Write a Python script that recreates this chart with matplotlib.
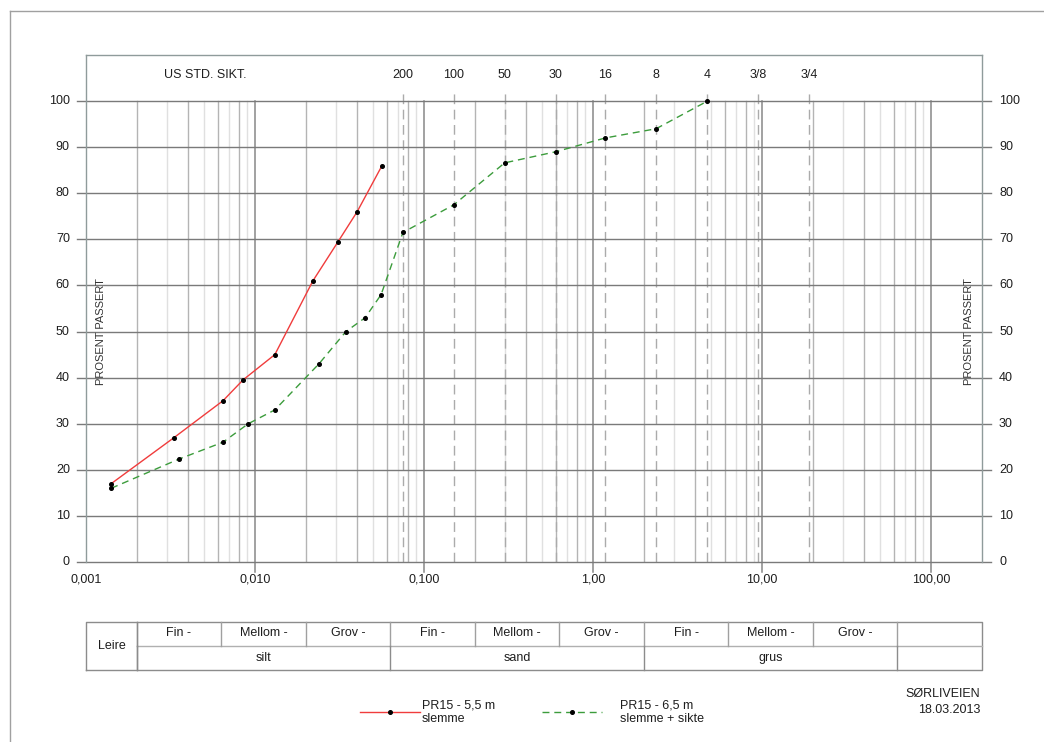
import numpy as np
import matplotlib
matplotlib.use("Agg")
import matplotlib.pyplot as plt
from matplotlib.lines import Line2D

plt.rcParams['font.family'] = ['Liberation Sans', 'DejaVu Sans']

# ---------------- data ----------------
red_d = [0.00141, 0.00332, 0.00647, 0.00849, 0.0131, 0.0220, 0.0310, 0.0402, 0.0564]
red_p = [17, 27, 35, 39.5, 45, 61, 69.5, 76, 86]

green_d = [0.00141, 0.00353, 0.00647, 0.00912, 0.0131, 0.0239, 0.0345, 0.0448, 0.0557,
           0.075, 0.15, 0.3, 0.6, 1.18, 2.36, 4.75]
green_p = [16, 22.3, 26, 30, 33, 43, 50, 53, 58, 71.5, 77.5, 86.6, 89, 92, 94, 100]

sieve_d = [0.075, 0.15, 0.3, 0.6, 1.18, 2.36, 4.75, 9.5, 19]
sieve_lbl = ['200', '100', '50', '30', '16', '8', '4', '3/8', '3/4']

xtick_vals = [0.001, 0.01, 0.1, 1, 10, 100]
xtick_lbl = ['0,001', '0,010', '0,100', '1,00', '10,00', '100,00']
ytick_vals = list(range(0, 101, 10))

tab_bounds = [0.001, 0.002, 0.0063, 0.02, 0.063, 0.2, 0.63, 2, 6.3, 20, 63, 200]
tab_sub = ['Fin -', 'Mellom -', 'Grov -', 'Fin -', 'Mellom -', 'Grov -',
           'Fin -', 'Mellom -', 'Grov -', '']
tab_main = ['silt', 'sand', 'grus']
tab_main_bounds = [0.002, 0.063, 2, 63, 200]

FS = 9
TC = '#1e1e1e'

W, H = 1044, 742
fig = plt.figure(figsize=(W / 100, H / 100), dpi=100)

def fx(px):
    return px / W

def fy(py):
    return 1 - py / H

XL, XR = 0.001, 200
L, R, T, B = 86, 982, 55, 562
ax = fig.add_axes([fx(L), fy(B), fx(R - L), (B - T) / H])
ax.set_xscale('log')
ax.set_xlim(XL, XR)
ax.set_ylim(0, 110)
ax.set_xticks([])
ax.set_yticks([])
ax.minorticks_off()
for s in ['left', 'right', 'top']:
    ax.spines[s].set_color('#8f9b9b')
    ax.spines[s].set_linewidth(1)
ax.spines['bottom'].set_visible(False)

# vertical grid: minor
for e in range(-3, 3):
    d = 10.0 ** e
    for m in range(2, 10):
        x = m * d
        if x >= XR:
            continue
        col = '#b4b4b4' if m % 2 == 0 else '#e0e0e0'
        ax.plot([x, x], [0, 100], color=col, lw=1, zorder=1)
# major decades
for x in xtick_vals[1:]:
    ax.plot([x, x], [-2.2, 100], color='#888888', lw=1.1, zorder=1.5, clip_on=False)

# sieve dashed lines
for x, lb in zip(sieve_d, sieve_lbl):
    ax.plot([x, x], [0, 102], color='#ababab', lw=1, ls=(0, (7, 4)), zorder=1.6)
    ax.text(x, 105.6, lb, ha='center', va='center', fontsize=FS, color=TC)
ax.text(0.00506, 105.6, 'US STD. SIKT.', ha='center', va='center', fontsize=FS, color=TC)

# horizontal grid
tr = ax.get_yaxis_transform()
for y in ytick_vals:
    ax.plot([-0.01, 1.01], [y, y], transform=tr, color='#7a7a7a', lw=1,
            zorder=2, clip_on=False)
    ax.text(-0.018, y, str(y), transform=tr, ha='right', va='center', fontsize=FS,
            color=TC)
    ax.text(1.019, y, str(y), transform=tr, ha='left', va='center', fontsize=FS,
            color=TC)

# x tick labels
xtr = ax.get_xaxis_transform()
for x, lb in zip(xtick_vals, xtick_lbl):
    ax.text(x, -0.035, lb, transform=xtr, ha='center', va='center', fontsize=FS,
            color=TC)

ax.text(0.017, 50, 'PROSENT PASSERT', transform=tr, rotation=90, ha='center',
        va='center', fontsize=8, color='#333333')
ax.text(0.985, 50, 'PROSENT PASSERT', transform=tr, rotation=90, ha='center',
        va='center', fontsize=8, color='#333333')

# data curves
ax.plot(red_d, red_p, color='#f03c3c', lw=1, zorder=5)
ax.plot(red_d, red_p, ls='none', marker='o', ms=2.6, color='black', zorder=6)
ax.plot(green_d, green_p, color='#3c9c3c', lw=1, ls=(0, (5, 3.5)), zorder=5)
ax.plot(green_d, green_p, ls='none', marker='o', ms=2.6, color='black', zorder=6)

# ---------------- table ----------------
TT, TB = 622, 669.5
tax = fig.add_axes([fx(L), fy(TB), fx(R - L), (TB - TT) / H])
tax.set_xscale('log')
tax.set_xlim(XL, XR)
tax.set_ylim(0, 2)
tax.axis('off')
lc = '#8c8c8c'
tax.plot([XL, XR, XR, XL, XL], [0, 0, 2, 2, 0], color=lc, lw=1, clip_on=False)
tax.plot([tab_bounds[1], XR], [1, 1], color='#b0b0b0', lw=1, clip_on=False)
for x in tab_bounds[1:-1]:
    tax.plot([x, x], [1, 2], color='#a0a0a0', lw=1, clip_on=False)
for x in tab_main_bounds[:-1]:
    tax.plot([x, x], [0, 1], color=lc, lw=1, clip_on=False)
tax.plot([tab_bounds[1], tab_bounds[1]], [0, 2], color=lc, lw=1, clip_on=False)
for i, lb in enumerate(tab_sub):
    xc = np.sqrt(tab_bounds[i + 1] * tab_bounds[i + 2])
    tax.text(xc, 1.55, lb, ha='center', va='center', fontsize=FS, color=TC)
for i, lb in enumerate(tab_main):
    xc = np.sqrt(tab_main_bounds[i] * tab_main_bounds[i + 1])
    tax.text(xc, 0.5, lb, ha='center', va='center', fontsize=FS, color=TC)
tax.text(np.sqrt(tab_bounds[0] * tab_bounds[1]), 1, 'Leire', ha='center', va='center',
         fontsize=FS, color=TC)

# ---------------- legend & footer ----------------
fig.add_artist(Line2D([fx(360), fx(420)], [fy(712), fy(712)], color='#f03c3c', lw=1))
fig.add_artist(Line2D([fx(390)], [fy(712)], marker='o', ms=2.6, color='black', ls='none'))
fig.text(fx(422), fy(705), 'PR15 - 5,5 m', ha='left', va='center', fontsize=FS, color=TC)
fig.text(fx(422), fy(719), 'slemme', ha='left', va='center', fontsize=FS, color=TC)
fig.add_artist(Line2D([fx(542), fx(602)], [fy(712), fy(712)], color='#3c9c3c', lw=1,
                      ls=(0, (5, 3.5))))
fig.add_artist(Line2D([fx(572)], [fy(712)], marker='o', ms=2.6, color='black', ls='none'))
fig.text(fx(620), fy(705), 'PR15 - 6,5 m', ha='left', va='center', fontsize=FS, color=TC)
fig.text(fx(620), fy(719), 'slemme + sikte', ha='left', va='center', fontsize=FS, color=TC)
fig.text(fx(980), fy(694), 'SØRLIVEIEN', ha='right', va='center', fontsize=FS, color=TC)
fig.text(fx(980), fy(710), '18.03.2013', ha='right', va='center', fontsize=FS, color=TC)

# outer frame
fig.add_artist(Line2D([fx(10), 1], [fy(11), fy(11)], color='#a0a0a0', lw=1))
fig.add_artist(Line2D([fx(10), fx(10)], [fy(11), 0], color='#a0a0a0', lw=1))

fig.savefig('out.png', dpi=100)
